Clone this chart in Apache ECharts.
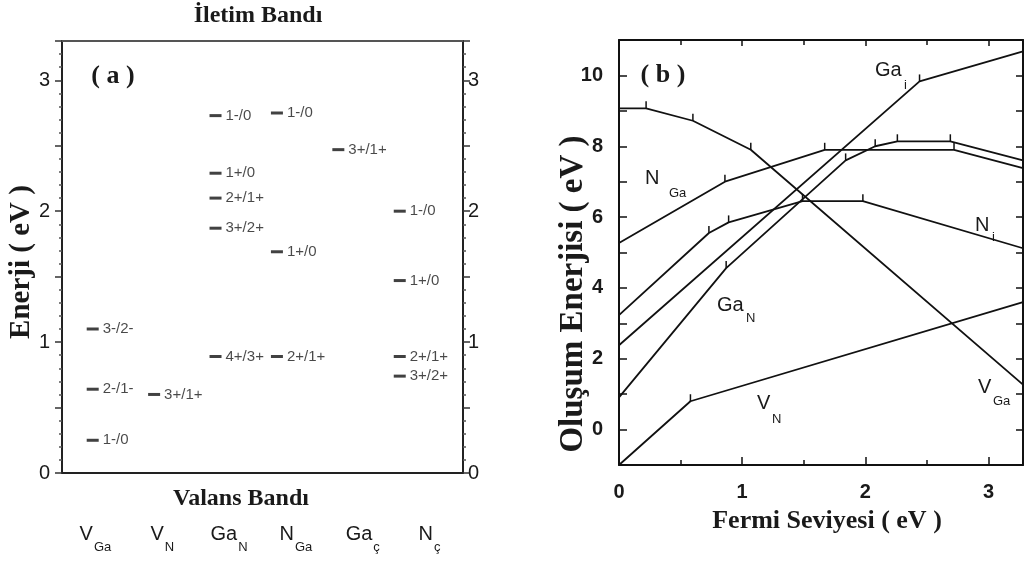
<!DOCTYPE html>
<html>
<head>
<meta charset="utf-8">
<script src="https://cdn.jsdelivr.net/npm/echarts@6/dist/echarts.min.js"></script>
<style>
html, body { margin: 0; padding: 0; background: #fff; }
#chart { width: 1026px; height: 564px; }
</style>
</head>
<body>
<div id="chart"></div>
<script>
// (a) kusur seviyeleri: [enerji eV, geçiş]
const defectMain = ['V', 'V', 'Ga', 'N', 'Ga', 'N']
const defectSub = ['Ga', 'N', 'N', 'Ga', 'ç', 'ç']
const levelsVGa = [[1.1, '3-/2-'], [0.64, '2-/1-'], [0.25, '1-/0']]
const levelsVN = [[0.6, '3+/1+']]
const levelsGaN = [[2.73, '1-/0'], [2.29, '1+/0'], [2.1, '2+/1+'], [1.87, '3+/2+'], [0.89, '4+/3+']]
const levelsNGa = [[2.75, '1-/0'], [1.69, '1+/0'], [0.89, '2+/1+']]
const levelsGaI = [[2.47, '3+/1+']]
const levelsNI = [[2.0, '1-/0'], [1.47, '1+/0'], [0.89, '2+/1+'], [0.74, '3+/2+']]
const allLevels = [levelsVGa, levelsVN, levelsGaN, levelsNGa, levelsGaI, levelsNI]

// (b) oluşum enerjisi: [Fermi seviyesi, enerji]
const lineVGa = [[0, 9.07], [0.22, 9.07], [0.6, 8.72], [1.07, 7.9], [3.28, 1.27]]
const lineVN = [[0, -1], [0.58, 0.8], [3.28, 3.6]]
const lineNGa = [[0, 5.27], [0.86, 7.0], [1.67, 7.9], [2.72, 7.9], [3.28, 7.38]]
const lineNI = [[0, 3.23], [0.73, 5.55], [0.89, 5.85], [1.49, 6.45], [1.98, 6.45], [3.28, 5.12]]
const lineGaI = [[0, 2.38], [2.44, 9.83], [3.28, 10.68]]
const lineGaN = [[0, 0.91], [0.87, 4.56], [1.84, 7.6], [2.08, 8.0], [2.26, 8.14], [2.69, 8.14], [3.28, 7.6]]
const allLines = [lineVGa, lineVN, lineNGa, lineNI, lineGaI, lineGaN]

const chart = echarts.init(document.getElementById('chart'))
const sans = 'Liberation Sans'
const ink = '#1a1a1a'

const levelData = []
allLevels.forEach((arr, i) => {
  arr.forEach(l => {
    levelData.push({ value: [i + 0.5, l[0]], name: l[1] })
  })
})

const lineSeries = allLines.map(arr => ({
  type: 'line',
  xAxisIndex: 3,
  yAxisIndex: 2,
  data: arr.map((p, k) => (k === 0 || k === arr.length - 1) ? { value: p, symbol: 'none' } : p),
  symbol: 'rect',
  symbolSize: [1.5, 7],
  symbolOffset: [0, -3.5],
  showSymbol: true,
  itemStyle: { color: '#111' },
  lineStyle: { color: '#111', width: 1.8 },
  emphasis: { disabled: true }
}))

function txt (text, x, y, font, extra) {
  return Object.assign({
    type: 'text',
    x: x,
    y: y,
    style: {
      text: text,
      font: font,
      fill: ink,
      textAlign: 'center',
      textVerticalAlign: 'middle',
      align: 'center',
      verticalAlign: 'middle'
    }
  }, extra || {})
}
function leftTxt (text, x, y, font) {
  const t = txt(text, x, y, font)
  t.style.textAlign = 'left'
  t.style.align = 'left'
  return t
}

const option = {
  animation: false,
  backgroundColor: '#fff',
  grid: [
    { left: 62, right: 563, top: 41, bottom: 91 },
    { left: 619, right: 2, top: 40, bottom: 99 }
  ],
  xAxis: [
    {
      gridIndex: 0, type: 'value', min: 0, max: 6.53, position: 'bottom',
      axisLine: { onZero: false, lineStyle: { color: '#222', width: 2 } },
      axisTick: { show: false }, axisLabel: { show: false }, splitLine: { show: false }
    },
    {
      gridIndex: 0, type: 'value', min: 0, max: 6.53, position: 'top',
      axisLine: { onZero: false, lineStyle: { color: '#555', width: 2 } },
      axisTick: { show: false }, axisLabel: { show: false }, splitLine: { show: false }
    },
    {
      gridIndex: 0, type: 'category', data: defectMain, position: 'bottom', offset: 0,
      axisLine: { show: false }, axisTick: { show: false }, splitLine: { show: false },
      axisLabel: {
        interval: 0,
        margin: 42,
        formatter: (v, i) => '{m|' + v + '}{s|' + defectSub[i] + '}',
        rich: {
          m: { fontSize: 20, fontFamily: sans, color: ink },
          s: { fontSize: 13, fontFamily: sans, color: ink, padding: [26, 0, 0, 1] }
        }
      }
    },
    {
      gridIndex: 1, type: 'value', min: 0, max: 3.28, interval: 1, position: 'bottom',
      axisLine: { onZero: false, lineStyle: { color: '#111', width: 2 } },
      axisTick: { inside: true, length: 8, lineStyle: { color: '#111', width: 1.5 } },
      minorTick: { show: true, splitNumber: 2, length: 5, lineStyle: { color: '#111', width: 1.5 } },
      axisLabel: {
        margin: 17, fontSize: 20, fontWeight: 'bold', fontFamily: sans, color: ink,
        formatter: v => Number.isInteger(v) ? String(v) : ''
      },
      splitLine: { show: false }, minorSplitLine: { show: false }
    },
    {
      gridIndex: 1, type: 'value', min: 0, max: 3.28, interval: 1, position: 'top',
      axisLine: { onZero: false, lineStyle: { color: '#111', width: 2 } },
      axisTick: { inside: true, length: 6, lineStyle: { color: '#111', width: 1.5 } },
      minorTick: { show: true, splitNumber: 2, length: 5, lineStyle: { color: '#111', width: 1.5 } },
      axisLabel: { show: false }, splitLine: { show: false }
    }
  ],
  yAxis: [
    {
      gridIndex: 0, type: 'value', min: 0, max: 3.3, interval: 0.5, position: 'left',
      axisLine: { show: true, onZero: false, lineStyle: { color: '#222', width: 2 } },
      axisTick: { length: 7, lineStyle: { color: '#333', width: 1.5 } },
      minorTick: { show: true, splitNumber: 5, length: 3, lineStyle: { color: '#555', width: 1.5 } },
      axisLabel: {
        margin: 12, fontSize: 20, fontFamily: sans, color: ink,
        formatter: v => Number.isInteger(v) ? String(v) : ''
      },
      splitLine: { show: false }, minorSplitLine: { show: false }
    },
    {
      gridIndex: 0, type: 'value', min: 0, max: 3.3, interval: 0.5, position: 'right',
      axisLine: { show: true, onZero: false, lineStyle: { color: '#222', width: 2 } },
      axisTick: { length: 7, lineStyle: { color: '#333', width: 1.5 } },
      minorTick: { show: true, splitNumber: 5, length: 3, lineStyle: { color: '#555', width: 1.5 } },
      axisLabel: {
        margin: 5, fontSize: 20, fontFamily: sans, color: ink,
        formatter: v => Number.isInteger(v) ? String(v) : ''
      },
      splitLine: { show: false }, minorSplitLine: { show: false }
    },
    {
      gridIndex: 1, type: 'value', min: -1, max: 11, interval: 1, position: 'left',
      axisLine: { show: true, onZero: false, lineStyle: { color: '#111', width: 2 } },
      axisTick: { inside: true, length: 8, lineStyle: { color: '#111', width: 1.5 } },
      axisLabel: {
        margin: 16, fontSize: 20, fontWeight: 'bold', fontFamily: sans, color: ink,
        formatter: v => (v % 2 === 0) ? String(v) : ''
      },
      splitLine: { show: false }
    },
    {
      gridIndex: 1, type: 'value', min: -1, max: 11, interval: 1, position: 'right',
      axisLine: { show: true, onZero: false, lineStyle: { color: '#111', width: 2 } },
      axisTick: { inside: true, length: 7, lineStyle: { color: '#111', width: 1.5 } },
      axisLabel: { show: false }, splitLine: { show: false }
    }
  ],
  series: [
    {
      type: 'scatter',
      xAxisIndex: 0,
      yAxisIndex: 0,
      data: levelData,
      symbol: 'rect',
      symbolSize: [12, 3],
      itemStyle: { color: '#111' },
      label: {
        show: true, position: 'right', distance: 4, formatter: '{b}',
        fontSize: 15, fontFamily: sans, color: ink
      },
      emphasis: { disabled: true }
    }
  ].concat(lineSeries),
  graphic: [
    txt('İletim Bandı', 258, 16, 'bold 24px "Liberation Serif"'),
    txt('Valans Bandı', 241, 499, 'bold 24px "Liberation Serif"'),
    txt('Enerji ( eV )', 22, 262, 'bold 29px "Liberation Serif"', { rotation: Math.PI / 2 }),
    txt('( a )', 113, 76, 'bold 26px "Liberation Serif"'),
    txt('( b )', 663, 75, 'bold 26px "Liberation Serif"'),
    txt('Fermi Seviyesi ( eV )', 827, 521, 'bold 26px "Liberation Serif"'),
    txt('Oluşum Enerjisi ( eV )', 573, 294, 'bold 33px "Liberation Serif"', { rotation: Math.PI / 2 }),
    leftTxt('Ga', 875, 70, '20px "Liberation Sans"'),
    leftTxt('i', 904, 85, '13px "Liberation Sans"'),
    leftTxt('N', 645, 178, '20px "Liberation Sans"'),
    leftTxt('Ga', 669, 193, '13px "Liberation Sans"'),
    leftTxt('N', 975, 225, '20px "Liberation Sans"'),
    leftTxt('i', 992, 237, '13px "Liberation Sans"'),
    leftTxt('Ga', 717, 305, '20px "Liberation Sans"'),
    leftTxt('N', 746, 318, '13px "Liberation Sans"'),
    leftTxt('V', 978, 387, '20px "Liberation Sans"'),
    leftTxt('Ga', 993, 401, '13px "Liberation Sans"'),
    leftTxt('V', 757, 403, '20px "Liberation Sans"'),
    leftTxt('N', 772, 419, '13px "Liberation Sans"')
  ]
}

chart.setOption(option)
</script>
</body>
</html>
